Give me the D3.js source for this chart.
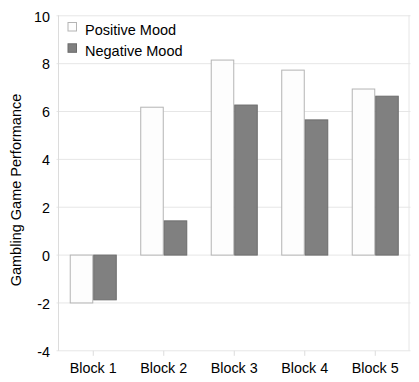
<!DOCTYPE html>
<html><head><meta charset="utf-8">
<script src="https://cdn.jsdelivr.net/npm/d3@7"></script>
<style>body{margin:0;background:#fff}svg{display:block}text{font-family:"Liberation Sans",Arial,sans-serif;fill:#000}</style>
</head><body>
<svg id="c" width="419" height="382"></svg>
<script>
const categories = ["Block 1","Block 2","Block 3","Block 4","Block 5"];
const seriesNames = ["Positive Mood","Negative Mood"];
const positiveMood = [-2.0, 6.18, 8.15, 7.73, 6.94];
const negativeMood = [-1.87, 1.43, 6.27, 5.65, 6.64];
const yTicks = [-4,-2,0,2,4,6,8,10];
const yLabel = "Gambling Game Performance";

const svg = d3.select("#c");
const m = {l:58, r:410.5, t:15.3, b:350.3};
const x = d3.scaleBand().domain(categories).range([m.l, m.r]).paddingInner(0.333).paddingOuter(0.1665);
const xs = d3.scaleBand().domain(seriesNames).range([0, x.bandwidth()]);
const y = d3.scaleLinear().domain([-4,10]).range([m.b, m.t]);
const fills = ["#fdfdfd","#808080"], strokes = ["#b4b4b4","#6c6c6c"];
const series = [positiveMood, negativeMood];

// grid
svg.append("g").selectAll("line").data(yTicks).join("line")
  .attr("x1", m.l-1.5).attr("x2", m.r).attr("y1", d=>y(d)+0.5).attr("y2", d=>y(d)+0.5)
  .attr("stroke", "#e6e6e6");
svg.append("line").attr("x1", m.l+0.5).attr("x2", m.l+0.5).attr("y1", m.t).attr("y2", m.b+0.5).attr("stroke","#dcdcdc");
svg.append("line").attr("x1", m.r-1.5).attr("x2", m.r-1.5).attr("y1", m.t).attr("y2", m.b+0.5).attr("stroke","#e6e6e6");

// y axis labels
const ya = svg.append("g").attr("transform", `translate(${m.l-8},0)`)
  .call(d3.axisLeft(y).tickValues(yTicks).tickSize(0).tickPadding(0).tickFormat(d=>String(d)));
ya.select(".domain").remove();
ya.selectAll("text").attr("font-size", "14.3px").attr("fill","#000").attr("dy","0.4em");

// x axis
const xa = svg.append("g").attr("transform", `translate(0,${m.b+0.5})`)
  .call(d3.axisBottom(x).tickSize(5).tickPadding(7));
xa.select(".domain").remove();
xa.selectAll("line").attr("stroke","#dcdcdc");
xa.selectAll("text").attr("font-size","14.3px").attr("fill","#000");

// bars
series.forEach((vals, si) => {
  svg.append("g").selectAll("rect").data(vals).join("rect")
    .attr("x", (d,i)=>x(categories[i]) + xs(seriesNames[si]) + 0.5)
    .attr("width", xs.bandwidth()-1)
    .attr("y", d=>Math.min(y(d), y(0)) + 0.5)
    .attr("height", d=>Math.abs(y(d)-y(0)))
    .attr("fill", fills[si]).attr("stroke", strokes[si]);
});

// y label
svg.append("text").attr("transform", `translate(21,190) rotate(-90)`)
  .attr("text-anchor","middle").attr("font-size","14.5px").text(yLabel);

// legend
const lg = svg.append("g").selectAll("g").data(seriesNames).join("g")
  .attr("transform", (d,i)=>`translate(67.5,${22+i*21.3})`);
lg.append("rect").attr("x",0.5).attr("y",0.5).attr("width",8.5).attr("height",8.5)
  .attr("fill",(d,i)=>fills[i]).attr("stroke",(d,i)=>strokes[i]);
lg.append("text").attr("x",17.5).attr("y",12.8).attr("font-size","14.5px").text(d=>d);
</script>
</body></html>
